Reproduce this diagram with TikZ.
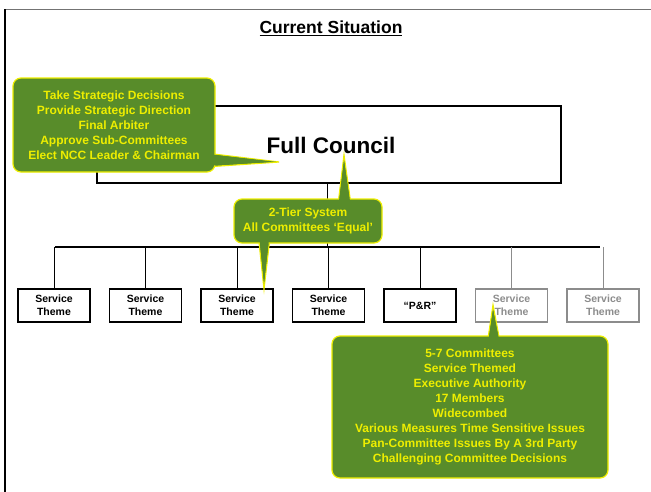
\documentclass[tikz,border=0pt]{standalone}
\usepackage{fontspec}
\setmainfont{Liberation Sans}
\definecolor{cgreen}{RGB}{88,140,42}
\definecolor{cyellow}{RGB}{238,238,0}
\definecolor{cgrey}{RGB}{140,140,140}
\tikzset{
  every node/.style={font=\bfseries},
  themebox/.style={draw=black,line width=1.5pt,minimum width=72pt,minimum height=33pt,inner sep=0pt,align=center,font=\bfseries\fontsize{10.5}{13}\selectfont},
  greybox/.style={themebox,draw=cgrey,text=cgrey},
  callbox/.style={fill=cgreen,draw=cyellow,line width=1.2pt,rounded corners=8pt,inner sep=0pt,align=center,text=cyellow,font=\bfseries\fontsize{12}{15}\selectfont},
  pointer/.style={fill=cgreen,draw=cyellow,line width=1.2pt,line join=miter},
  link/.style={draw=black,line width=1pt},
  greylink/.style={draw=cgrey,line width=1pt},
}
\begin{document}
\begin{tikzpicture}[x=1pt,y=-1pt]
\useasboundingbox (0,0) rectangle (651,491);
% frame
\draw[black!55,line width=1.5pt] (5,9.5) -- (652,9.5);
\draw[black,line width=2pt] (5,9) -- (5,492);
% title
\node[font=\bfseries\fontsize{17.5}{20}\selectfont] (title) at (331,28) {\underline{Current Situation}};
% full council
\node[draw=black,line width=2pt,minimum width=464pt,minimum height=77pt,inner sep=0pt] (fc) at (329,144.5) {};
\node[font=\bfseries\fontsize{22.5}{26}\selectfont] (fct) at (331,145) {Full Council};
% bus
\coordinate (bus) at (327,247);
\coordinate (busL) at (55,247);
\coordinate (busR) at (600,247);
\draw[link] (fc.south -| bus) -- (bus);
\draw[black,line width=1.8pt] (busL) -- (busR);
% boxes
\node[themebox] (s1) at (54,305.5) {Service\\Theme};
\node[themebox] (s2) at (145.5,305.5) {Service\\Theme};
\node[themebox] (s3) at (237,305.5) {Service\\Theme};
\node[themebox] (s4) at (328.5,305.5) {Service\\Theme};
\node[themebox] (pr) at (420,305.5) {``P\&R''};
\node[greybox] (s6) at (511.5,305.5) {Service\\Theme};
\node[greybox] (s7) at (603,305.5) {Service\\Theme};
\foreach \n in {s1,s2,s3,s4,pr}{\draw[link] (\n.north |- bus) -- (\n.north);}
\foreach \n in {s6,s7}{\draw[greylink] (\n.north |- bus) -- (\n.north);}
% left callout
\coordinate (p1tip) at (279,162);
\draw[pointer] (205,153) -- (p1tip) -- (205,167) -- cycle;
\node[callbox,minimum width=202pt,minimum height=94pt] (c1) at (114,125) {Take Strategic Decisions\\Provide Strategic Direction\\Final Arbiter\\Approve Sub-Committees\\Elect NCC Leader \& Chairman};
\fill[cgreen] (212,154.5) -- (276,161.8) -- (212,165.5) -- cycle;
% middle callout
\coordinate (p2tip) at (344,155);
\coordinate (p3tip) at (264,289);
\draw[pointer] (338,205) -- (p2tip) -- (351,205) -- cycle;
\draw[pointer] (258.5,237) -- (p3tip) -- (270,237) -- cycle;
\node[callbox,minimum width=148pt,minimum height=44pt] (c2) at (308,221) {2-Tier System\\All Committees `Equal'};
\fill[cgreen] (339,201) -- (344,160) -- (350,201) -- cycle;
\fill[cgreen] (259.8,241) -- (264,284) -- (268.8,241) -- cycle;
% bottom callout
\coordinate (p4tip) at (493,305);
\draw[pointer] (487.5,342) -- (p4tip) -- (500,342) -- cycle;
\node[callbox,minimum width=276pt,minimum height=142pt] (c3) at (470,407) {5-7 Committees\\Service Themed\\Executive Authority\\17 Members\\Widecombed\\Various Measures Time Sensitive Issues\\Pan-Committee Issues By A 3rd Party\\Challenging Committee Decisions};
\fill[cgreen] (488.8,338) -- (493,310) -- (498.8,338) -- cycle;
\end{tikzpicture}
\end{document}
